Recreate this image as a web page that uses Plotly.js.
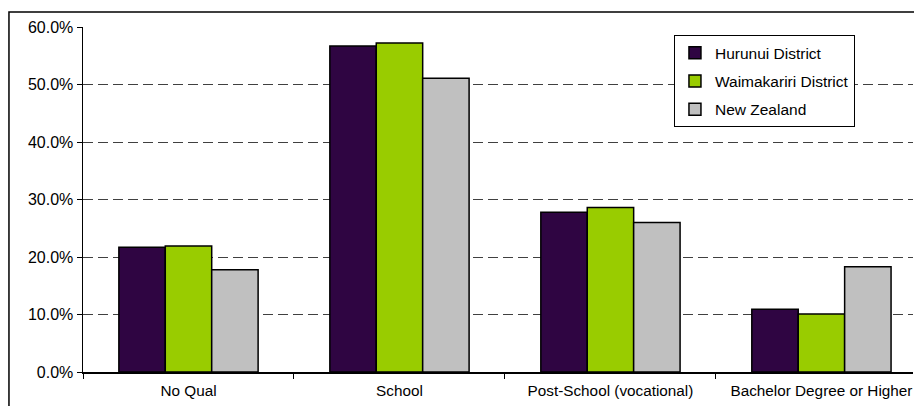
<!DOCTYPE html>
<html>
<head>
<meta charset="utf-8">
<script src="https://cdn.plot.ly/plotly-3.0.1.min.js"></script>
<style>
html,body{margin:0;padding:0;background:#fff;}
#chart{width:914px;height:406px;}
</style>
</head>
<body>
<div id="chart"></div>
<script>
const categories = ["No Qual", "School", "Post-School (vocational)", "Bachelor Degree or Higher"];
const seriesNames = ["Hurunui District", "Waimakariri District", "New Zealand"];
const hurunui = [21.7, 56.7, 27.8, 10.9];
const waimakariri = [21.9, 57.2, 28.6, 10.1];
const newZealand = [17.8, 51.1, 26.0, 18.3];
const colors = ["#2F0542", "#99CC00", "#C0C0C0"];

const seriesValues = [hurunui, waimakariri, newZealand];
const fam = "Liberation Sans, Arial, sans-serif";

const traces = seriesValues.map((vals, i) => ({
  type: "bar",
  name: seriesNames[i],
  x: categories,
  y: vals,
  legendgroup: "g" + i,
  marker: {color: colors[i], line: {color: "#000", width: 1.5}},
  hoverinfo: "none"
}));

const layout = {
  width: 914,
  height: 406,
  margin: {l: 83, r: 1, t: 27, b: 34, pad: 0},
  paper_bgcolor: "#fff",
  plot_bgcolor: "#fff",
  font: {family: fam, size: 16, color: "#000"},
  barmode: "group",
  bargap: 0.34,
  bargroupgap: 0,
  showlegend: true,
  legend: {
    x: 0.712, y: 0.976, xanchor: "left", yanchor: "top",
    bgcolor: "#fff", bordercolor: "#000", borderwidth: 1,
    font: {family: fam, size: 15.5, color: "#000"},
    traceorder: "grouped", tracegroupgap: 5
  },
  xaxis: {
    type: "category",
    range: [-0.5, 3.434],
    showline: true, linecolor: "#000", linewidth: 1.5,
    ticks: "outside", tickson: "boundaries", ticklen: 5, tickcolor: "#000", tickwidth: 1,
    showgrid: false, zeroline: false,
    tickfont: {family: fam, size: 15.3, color: "#000"},
    ticklabelstandoff: 4,
    fixedrange: true
  },
  yaxis: {
    range: [0, 60],
    dtick: 10,
    tickformat: ".1f",
    ticksuffix: "%",
    showline: true, linecolor: "#000", linewidth: 1.5,
    ticks: "outside", ticklen: 5, tickcolor: "#000", tickwidth: 1,
    showgrid: true, gridcolor: "#404040", gridwidth: 1, griddash: "10px,5px",
    zeroline: false,
    tickfont: {family: fam, size: 16, color: "#000"},
    fixedrange: true
  },
  shapes: [{
    type: "rect", xref: "paper", yref: "paper",
    x0: -0.0892, x1: 1.2, y0: -0.3, y1: 1.0435,
    line: {color: "#000", width: 1.5}, fillcolor: "rgba(0,0,0,0)", layer: "above"
  }]
};

Plotly.newPlot("chart", traces, layout, {displayModeBar: false, staticPlot: true});
</script>
</body>
</html>
